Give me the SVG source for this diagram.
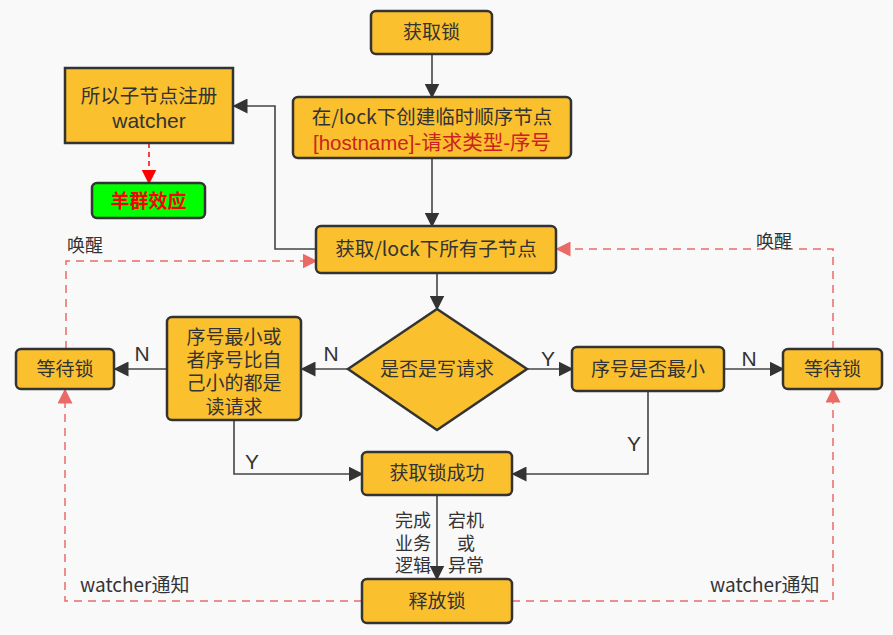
<svg xmlns="http://www.w3.org/2000/svg" width="893" height="635" viewBox="0 0 893 635">
<defs>
<style>
.n{fill:#FBC02D;stroke:#333;stroke-width:2.5}
.t{font-family:"Noto Sans CJK SC","Liberation Sans",sans-serif;font-size:19px;fill:#333;text-anchor:middle}
.l{font-family:"Noto Sans CJK SC","Liberation Sans",sans-serif;font-size:18px;fill:#333}
.yn{font-family:"Liberation Sans","Noto Sans CJK SC",sans-serif;font-size:21px;fill:#333;text-anchor:middle}
.lat{font-family:"Liberation Sans","Noto Sans CJK SC",sans-serif}
.c{fill:none;stroke:#444;stroke-width:1.6}
.d{fill:none;stroke:#EA6B66;stroke-width:1.5;stroke-dasharray:8 6}
</style>
<marker id="ap" viewBox="0 0 10 10" refX="9" refY="5" markerWidth="15" markerHeight="15" orient="auto" markerUnits="userSpaceOnUse">
<path d="M0,0 L10,5 L0,10 z" fill="#EA6B66"/>
</marker>
<marker id="ar" viewBox="0 0 10 10" refX="9" refY="5" markerWidth="15" markerHeight="15" orient="auto" markerUnits="userSpaceOnUse">
<path d="M0,0 L10,5 L0,10 z" fill="#FF0000"/>
</marker>
<marker id="ab" viewBox="0 0 10 10" refX="9" refY="5" markerWidth="15" markerHeight="15" orient="auto" markerUnits="userSpaceOnUse">
<path d="M0,0 L10,5 L0,10 z" fill="#333"/>
</marker>
</defs>
<rect width="893" height="635" fill="#F9F9F9"/>

<g id="connectors">
<path class="c" d="M432,54 V97" marker-end="url(#ab)"/>
<path class="c" d="M432,158 V226" marker-end="url(#ab)"/>
<path class="c" d="M316,249 H275 V106 H234" marker-end="url(#ab)"/>
<path fill="none" stroke="#FF0000" stroke-width="1.5" stroke-dasharray="5 4" d="M149,143 V183" marker-end="url(#ar)"/>
<path class="c" d="M437,273 V309" marker-end="url(#ab)"/>
<path class="c" d="M348,369 H302" marker-end="url(#ab)"/>
<path class="c" d="M167,369 H115" marker-end="url(#ab)"/>
<path class="c" d="M527,369 H572" marker-end="url(#ab)"/>
<path class="c" d="M724,369 H783" marker-end="url(#ab)"/>
<path class="c" d="M234,420 V474 H362" marker-end="url(#ab)"/>
<path class="c" d="M648,391 V474 H513" marker-end="url(#ab)"/>
<path class="c" d="M437,495 V579" marker-end="url(#ab)"/>
<path class="d" d="M66,349 V261 H316" marker-end="url(#ap)"/>
<path class="d" d="M833,349 V249 H557" marker-end="url(#ap)"/>
<path class="d" d="M362,601 H65 V390" marker-end="url(#ap)"/>
<path class="d" d="M512,601 H833 V389" marker-end="url(#ap)"/>
<text class="yn" x="142" y="361">N</text>
<text class="yn" x="331" y="361">N</text>
<text class="yn" x="548" y="366">Y</text>
<text class="yn" x="749" y="366">N</text>
<text class="yn" x="252" y="469">Y</text>
<text class="yn" x="634" y="451">Y</text>
<text class="l" x="67" y="252">唤醒</text>
<text class="l" x="756" y="248">唤醒</text>
<text class="l" x="80" y="592" style="font-size:19px">watcher通知</text>
<text class="l" x="710" y="592" style="font-size:19px">watcher通知</text>
<text class="l lat" text-anchor="middle"><tspan x="413" y="527">完成</tspan><tspan x="413" y="549.5">业务</tspan><tspan x="413" y="572">逻辑</tspan></text>
<text class="l lat" text-anchor="middle"><tspan x="466" y="527">宕机</tspan><tspan x="466" y="549.5">或</tspan><tspan x="466" y="572">异常</tspan></text>
</g>

<g id="n-getlock">
<rect class="n" x="371" y="11" width="121" height="43" rx="5"/>
<text class="t" x="431.5" y="39">获取锁</text>
</g>
<g id="n-create">
<rect class="n" x="293" y="97" width="278" height="61" rx="5"/>
<text class="t" x="432" y="124" style="font-size:19.5px">在/lock下创建临时顺序节点</text>
<text class="t lat" x="432" y="150" style="fill:#CC2222;font-size:20.5px">[hostname]-请求类型-序号</text>
</g>
<g id="n-watcher">
<rect class="n" x="65" y="68" width="168" height="75"/>
<text class="t" x="149" y="103" style="font-size:19.5px">所以子节点注册</text>
<text class="t lat" x="149" y="128" style="font-size:21px">watcher</text>
</g>
<g id="n-herd">
<rect x="92" y="183" width="113" height="35" rx="5" fill="#00FF00" stroke="#333" stroke-width="2.5"/>
<text class="t" x="148.5" y="208" style="fill:#FF0000;font-weight:bold">羊群效应</text>
</g>
<g id="n-children">
<rect class="n" x="316" y="226" width="240" height="47" rx="5"/>
<text class="t" x="436" y="256" style="font-size:19.5px">获取/lock下所有子节点</text>
</g>
<g id="n-iswrite">
<polygon class="n" points="437,309 527,369 437,430 348,369"/>
<text class="t" x="437" y="376">是否是写请求</text>
</g>
<g id="n-readcheck">
<rect class="n" x="167" y="317" width="134" height="103" rx="5"/>
<text class="t lat"><tspan x="234" y="343.5">序号最小或</tspan><tspan x="234" y="367">者序号比自</tspan><tspan x="234" y="390.3">己小的都是</tspan><tspan x="234" y="413.6">读请求</tspan></text>
</g>
<g id="n-wait-left">
<rect class="n" x="16" y="349" width="98" height="40" rx="5"/>
<text class="t" x="65" y="376">等待锁</text>
</g>
<g id="n-minseq">
<rect class="n" x="572" y="347" width="152" height="44" rx="5"/>
<text class="t" x="648" y="376">序号是否最小</text>
</g>
<g id="n-wait-right">
<rect class="n" x="783" y="349" width="99" height="40" rx="5"/>
<text class="t" x="832.5" y="376">等待锁</text>
</g>
<g id="n-success">
<rect class="n" x="362" y="452" width="150" height="43" rx="5"/>
<text class="t" x="437" y="480">获取锁成功</text>
</g>
<g id="n-release">
<rect class="n" x="362" y="579" width="150" height="44" rx="5"/>
<text class="t" x="437" y="608">释放锁</text>
</g>
</svg>
